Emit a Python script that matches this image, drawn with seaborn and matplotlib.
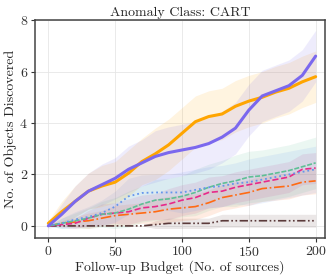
import numpy as np
import pandas as pd
import matplotlib
matplotlib.use("Agg")
import matplotlib.pyplot as plt
import seaborn as sns

# follow-up budget grid
budget = [0, 10, 20, 30, 40, 50, 60, 70, 80, 90, 100,
          110, 120, 130, 140, 150, 160, 170, 180, 190, 200]

purple = [0, 0.45, 0.95, 1.35, 1.6, 1.85, 2.2, 2.45, 2.7, 2.85, 2.95,
          3.05, 3.2, 3.45, 3.8, 4.5, 5.05, 5.25, 5.45, 5.85, 6.6]
orange = [0.1, 0.55, 0.95, 1.35, 1.55, 1.7, 2.05, 2.5, 2.8, 3.15, 3.6,
          4.05, 4.25, 4.35, 4.65, 4.85, 5.0, 5.2, 5.35, 5.6, 5.8]
blue = [0, 0.1, 0.25, 0.35, 0.5, 0.75, 1.15, 1.28, 1.3, 1.3, 1.3,
        1.4, 1.5, 1.55, 1.65, 1.7, 1.8, 1.9, 2.0, 2.1, 2.2]
green = [0, 0.1, 0.2, 0.3, 0.45, 0.5, 0.65, 0.85, 1.0, 1.05, 1.15,
         1.3, 1.5, 1.65, 1.75, 1.9, 1.95, 2.05, 2.15, 2.3, 2.45]
pink = [0, 0.05, 0.1, 0.3, 0.45, 0.5, 0.55, 0.7, 0.75, 0.85, 1.0,
        1.1, 1.3, 1.35, 1.5, 1.6, 1.7, 1.8, 1.9, 2.2, 2.25]
red = [0, 0.1, 0.15, 0.2, 0.3, 0.4, 0.45, 0.5, 0.55, 0.65, 0.7,
       0.75, 0.9, 1.1, 1.2, 1.3, 1.45, 1.5, 1.55, 1.7, 1.75]
brown = [0, 0, 0, 0, 0, 0, 0, 0, 0.05, 0.1, 0.1,
         0.1, 0.1, 0.2, 0.2, 0.2, 0.2, 0.2, 0.2, 0.2, 0.2]

# half-widths of the shaded bands
purple_sd = [0.1, 0.4, 0.6, 0.7, 0.8, 0.8, 0.9, 0.9, 1.0, 1.0, 1.0,
             1.0, 1.0, 1.0, 1.0, 1.0, 1.0, 1.0, 1.0, 1.0, 1.0]
orange_sd = [0.1, 0.4, 0.6, 0.7, 0.8, 0.8, 0.9, 0.9, 1.0, 1.0, 1.0,
             1.0, 1.0, 1.0, 1.0, 1.0, 1.0, 1.0, 1.0, 1.0, 1.0]
blue_sd = [0, 0.2, 0.3, 0.4, 0.5, 0.6, 0.7, 0.7, 0.7, 0.7, 0.8,
           0.8, 0.8, 0.8, 0.8, 0.9, 0.9, 0.9, 0.9, 0.9, 0.9]
green_sd = [0, 0.2, 0.3, 0.4, 0.5, 0.6, 0.7, 0.7, 0.8, 0.8, 0.8,
            0.9, 0.9, 0.9, 1.0, 1.0, 1.0, 1.0, 1.0, 1.0, 1.0]
pink_sd = [0, 0.1, 0.2, 0.3, 0.4, 0.4, 0.5, 0.5, 0.5, 0.6, 0.6,
           0.6, 0.6, 0.6, 0.6, 0.6, 0.6, 0.6, 0.6, 0.6, 0.6]
red_sd = [0, 0.1, 0.2, 0.3, 0.3, 0.4, 0.4, 0.4, 0.5, 0.5, 0.5,
          0.5, 0.5, 0.5, 0.5, 0.5, 0.5, 0.5, 0.5, 0.5, 0.5]
brown_sd = [0, 0, 0, 0, 0, 0, 0, 0, 0.15, 0.2, 0.2,
            0.2, 0.2, 0.25, 0.25, 0.25, 0.25, 0.25, 0.25, 0.25, 0.25]

series = [
    ("brown", brown, brown_sd, "#5b3a3a", (0, (5, 1.5, 1, 1.5, 1, 1.5)), 1.2),
    ("red", red, red_sd, "#ff6a13", "-.", 1.2),
    ("pink", pink, pink_sd, "#e7298a", "--", 1.2),
    ("green", green, green_sd, "#5fbf95", (0, (3, 1)), 1.2),
    ("blue", blue, blue_sd, "#6495ed", ":", 1.3),
    ("orange", orange, orange_sd, "#ffa500", "-", 2.2),
    ("purple", purple, purple_sd, "#7b68ee", "-", 2.2),
]


def main():
    sns.set_style("whitegrid")
    plt.rcParams["font.family"] = "serif"
    plt.rcParams["font.serif"] = ["cmr10", "DejaVu Serif"]
    plt.rcParams["mathtext.fontset"] = "cm"
    plt.rcParams["axes.formatter.use_mathtext"] = True

    fig, ax = plt.subplots(figsize=(3.33, 2.79), dpi=100)
    fig.subplots_adjust(left=0.105, right=0.976, bottom=0.147, top=0.928)

    for name, vals, sd, color, ls, lw in series:
        df = pd.DataFrame({"budget": budget, "found": vals})
        lo = np.array(vals) - np.array(sd)
        hi = np.array(vals) + np.array(sd)
        ax.fill_between(budget, lo, hi, color=color, alpha=0.12, lw=0)
        sns.lineplot(data=df, x="budget", y="found", ax=ax, color=color,
                     linestyle=ls, linewidth=lw)

    ax.set_xlim(-10, 207)
    ax.set_ylim(-0.47, 8.0)
    ax.set_xticks([0, 50, 100, 150, 200])
    ax.set_yticks([0, 2, 4, 6, 8])
    ax.grid(True, color="#e6e6e6", linewidth=0.6)
    ax.tick_params(axis="both", labelsize=10, length=3, width=0.8,
                   colors="#333333", bottom=True, left=True, pad=2)
    for sp in ax.spines.values():
        sp.set_color("#444444")
        sp.set_linewidth(1.1)
    ax.set_xlabel("Follow-up Budget (No. of sources)", fontsize=10, labelpad=1)
    ax.set_ylabel("No. of Objects Discovered", fontsize=10, labelpad=2)
    ax.set_title("Anomaly Class: CART", fontsize=10, pad=3)

    plt.savefig("out.png", dpi=100)


if __name__ == "__main__":
    main()
